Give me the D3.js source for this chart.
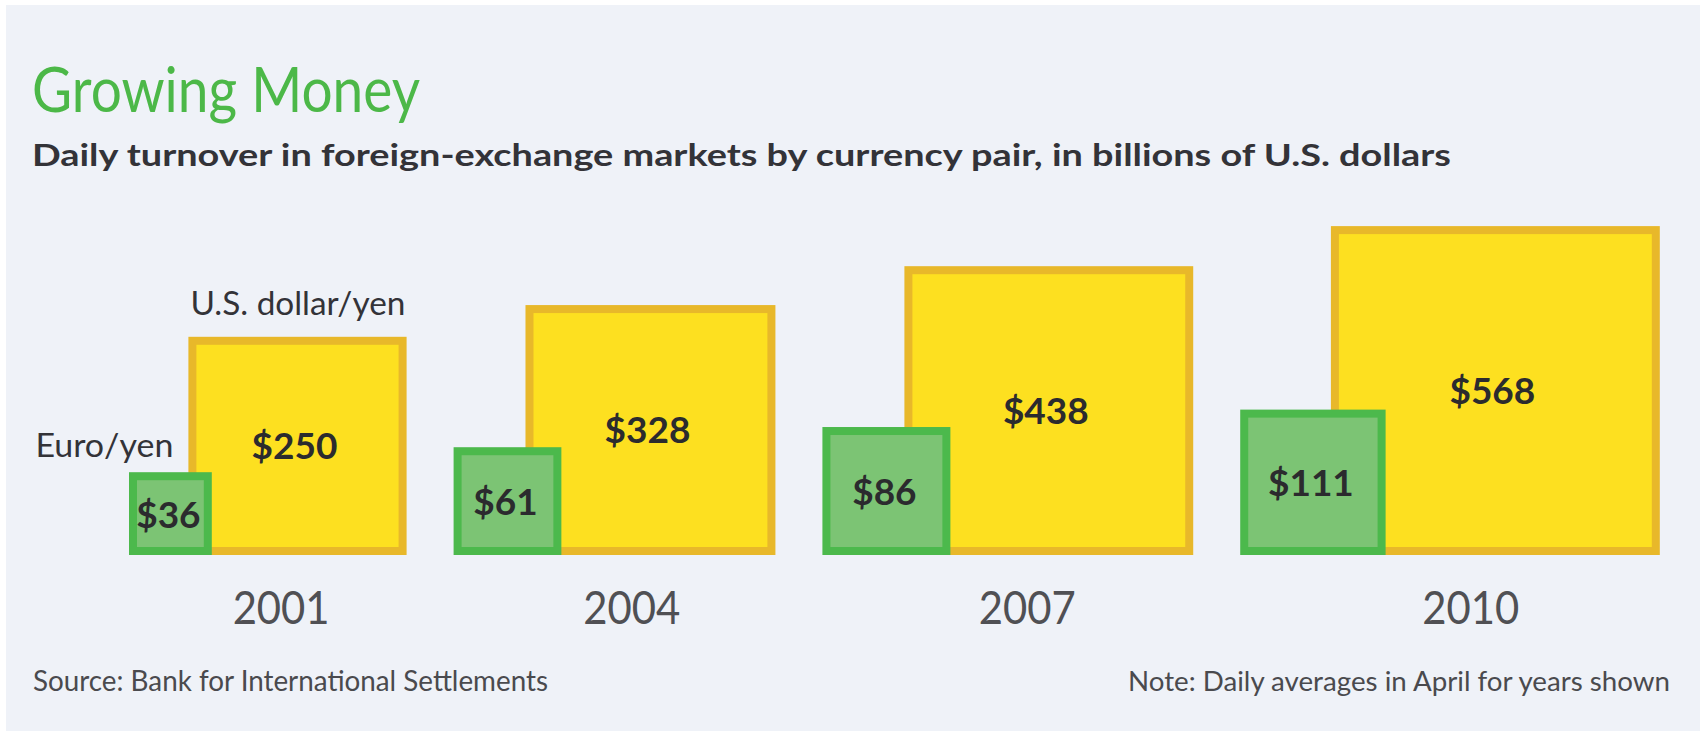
<!DOCTYPE html>
<html>
<head>
<meta charset="utf-8">
<script src="https://cdn.jsdelivr.net/npm/d3@7"></script>
<style>
  body { margin: 0; background: #ffffff; }
  text { font-family: Lato, "Open Sans", sans-serif; }
</style>
</head>
<body>
<div id="chart"></div>
<script>
var years = ["2001", "2004", "2007", "2010"];
var euroYen = [36, 61, 86, 111];
var dollarYen = [250, 328, 438, 568];

var width = 1700, height = 731;
var baseY = 555;      // bottom line of all squares
var startX = 129;     // left edge of first green square
var gap = 47;         // space between groups
var shift = 18;       // yellow square starts this far right of green centre
var sw = 8;           // border width

var svg = d3.select("#chart").append("svg")
    .attr("width", width)
    .attr("height", height);

//背景
svg.append("rect")
    .attr("x", 6).attr("y", 5)
    .attr("width", width - 6).attr("height", height - 5)
    .attr("fill", "#eff2f8");

//面积比例尺 -- 边长按数值的平方根
var side = d3.scaleSqrt()
    .domain([0, 600])
    .range([0, 13.8 * Math.sqrt(600)]);

//依次排列各组
var groups = [];
var x = startX;
for (var i = 0; i < years.length; i++) {
    var gs = side(euroYen[i]);
    var ys = side(dollarYen[i]);
    var yx = x + gs / 2 + shift;
    groups.push({year: years[i], euro: euroYen[i], dollar: dollarYen[i],
        gx: x, gs: gs, yx: yx, ys: ys});
    x = yx + ys + gap;
}

var g = svg.append("g").attr("id", "squares");

//美元/日元
g.selectAll("rect.dollar")
    .data(groups)
    .enter()
    .append("rect")
    .attr("class", "dollar")
    .attr("x", function (d) { return d.yx + sw / 2; })
    .attr("y", function (d) { return baseY - d.ys + sw / 2; })
    .attr("width", function (d) { return d.ys - sw; })
    .attr("height", function (d) { return d.ys - sw; })
    .attr("fill", "#fde020")
    .attr("stroke", "#e8b82a")
    .attr("stroke-width", sw);

//欧元/日元
g.selectAll("rect.euro")
    .data(groups)
    .enter()
    .append("rect")
    .attr("class", "euro")
    .attr("x", function (d) { return d.gx + sw / 2; })
    .attr("y", function (d) { return baseY - d.gs + sw / 2; })
    .attr("width", function (d) { return d.gs - sw; })
    .attr("height", function (d) { return d.gs - sw; })
    .attr("fill", "#7cc474")
    .attr("stroke", "#4cb94c")
    .attr("stroke-width", sw);

//数值标签
g.selectAll("text.dollarVal")
    .data(groups)
    .enter()
    .append("text")
    .attr("class", "dollarVal")
    .attr("x", function (d) { return d.yx + d.ys / 2 - 3; })
    .attr("y", function (d) { return baseY - d.ys / 2 + 13; })
    .attr("text-anchor", "middle")
    .attr("font-size", 37)
    .attr("font-weight", "bold")
    .attr("fill", "#2b2b2e")
    .text(function (d) { return "$" + d.dollar; });

g.selectAll("text.euroVal")
    .data(groups)
    .enter()
    .append("text")
    .attr("class", "euroVal")
    .attr("x", function (d) { return d.gx + d.gs / 2 - 2; })
    .attr("y", function (d) { return baseY - d.gs / 2 + 14; })
    .attr("text-anchor", "middle")
    .attr("font-size", 37)
    .attr("font-weight", "bold")
    .attr("fill", "#2b2b2e")
    .text(function (d) { return "$" + d.euro; });

//年份
g.selectAll("text.year")
    .data(groups)
    .enter()
    .append("text")
    .attr("class", "year")
    .attr("x", function (d) { return d.yx + d.ys * 0.425; })
    .attr("y", 624)
    .attr("text-anchor", "middle")
    .attr("font-size", 46)
    .attr("fill", "#505054")
    .attr("textLength", 97)
    .attr("lengthAdjust", "spacingAndGlyphs")
    .text(function (d) { return d.year; });

//图例文字
var first = groups[0];
svg.append("text")
    .attr("x", first.yx + 2)
    .attr("y", baseY - first.ys - 22)
    .attr("font-size", 32)
    .attr("fill", "#333338")
    .attr("textLength", 215)
    .attr("lengthAdjust", "spacingAndGlyphs")
    .text("U.S. dollar/yen");

svg.append("text")
    .attr("x", first.yx - 153)
    .attr("y", baseY - first.gs - 15)
    .attr("font-size", 32)
    .attr("fill", "#333338")
    .attr("textLength", 138)
    .attr("lengthAdjust", "spacingAndGlyphs")
    .text("Euro/yen");

//标题
svg.append("text")
    .attr("x", 32).attr("y", 112)
    .attr("font-size", 62)
    .attr("fill", "#4cb848")
    .attr("textLength", 388)
    .attr("lengthAdjust", "spacingAndGlyphs")
    .text("Growing Money");

svg.append("text")
    .attr("x", 32).attr("y", 166)
    .attr("font-size", 31)
    .attr("font-weight", "bold")
    .attr("fill", "#333338")
    .attr("textLength", 1419)
    .attr("lengthAdjust", "spacingAndGlyphs")
    .text("Daily turnover in foreign-exchange markets by currency pair, in billions of U.S. dollars");

//来源与注释
svg.append("text")
    .attr("x", 33).attr("y", 691)
    .attr("font-size", 28)
    .attr("fill", "#4a4a4e")
    .attr("textLength", 515)
    .attr("lengthAdjust", "spacingAndGlyphs")
    .text("Source: Bank for International Settlements");

svg.append("text")
    .attr("x", 1128).attr("y", 691)
    .attr("font-size", 27)
    .attr("fill", "#4a4a4e")
    .attr("textLength", 542)
    .attr("lengthAdjust", "spacingAndGlyphs")
    .text("Note: Daily averages in April for years shown");
</script>
</body>
</html>
